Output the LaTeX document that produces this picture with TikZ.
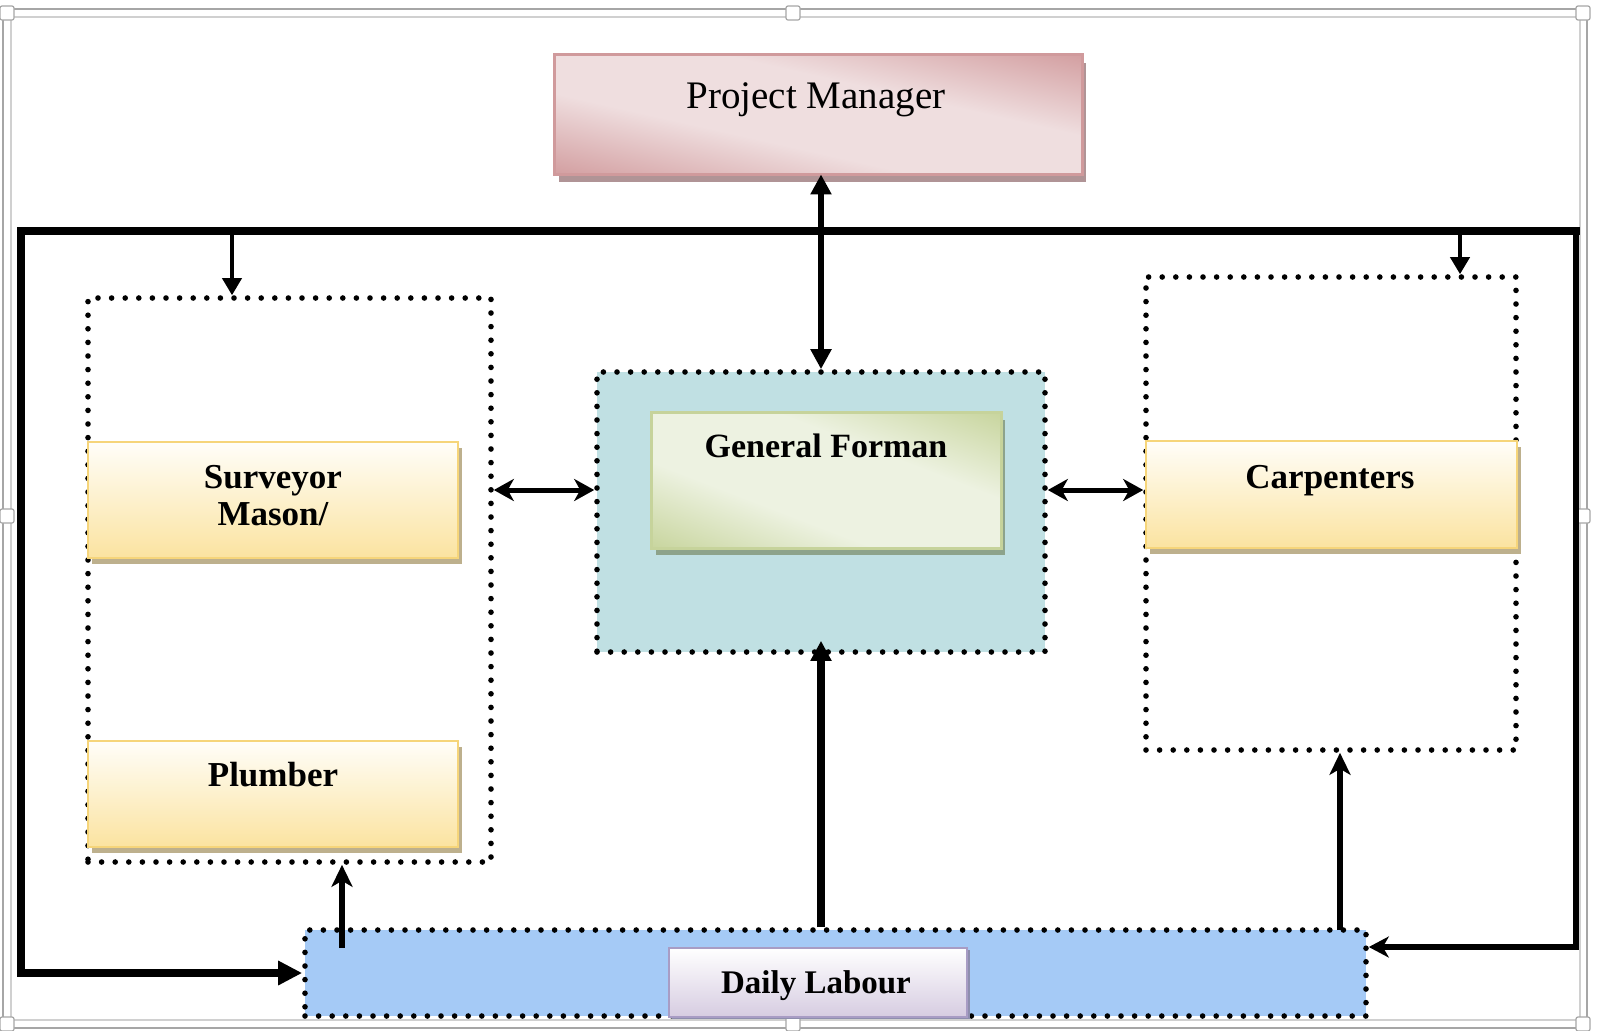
\documentclass[tikz,border=0pt]{standalone}
\usepackage{fontspec}
\setmainfont{Liberation Serif}
\usetikzlibrary{arrows.meta,shadows,calc}
\definecolor{frameA}{HTML}{A6A6A6}
\definecolor{frameB}{HTML}{D0D0D0}
\definecolor{pmlight}{HTML}{EFDEDF}
\definecolor{pmdark}{HTML}{D39FA1}
\definecolor{pmborder}{HTML}{D09A9C}
\definecolor{pmshadow}{HTML}{B09496}
\definecolor{gflight}{HTML}{EDF2E1}
\definecolor{gfdark}{HTML}{C8D59E}
\definecolor{gfborder}{HTML}{C6D39B}
\definecolor{gfshadow}{HTML}{8DA38B}
\definecolor{teal}{HTML}{C0E0E3}
\definecolor{goldtop}{HTML}{FFFEF9}
\definecolor{goldbot}{HTML}{FBE3A0}
\definecolor{goldborder}{HTML}{F6D57A}
\definecolor{goldshadow}{HTML}{BDB08D}
\definecolor{bluefill}{HTML}{A5CAF6}
\definecolor{dlbot}{HTML}{D6CCE1}
\definecolor{dlborder}{HTML}{A89CC4}
\definecolor{dlshadow}{HTML}{8E8EAE}
\pgfdeclareverticalshading{pmshade}{100bp}{color(0bp)=(pmdark); color(25bp)=(pmdark); color(42bp)=(pmlight); color(58bp)=(pmlight); color(75bp)=(pmdark); color(100bp)=(pmdark)}
\pgfdeclareverticalshading{gfshade}{100bp}{color(0bp)=(gfdark); color(25bp)=(gfdark); color(41bp)=(gflight); color(59bp)=(gflight); color(75bp)=(gfdark); color(100bp)=(gfdark)}
\begin{document}
\begin{tikzpicture}[x=0.5pt,y=-0.5pt,
  dotbox/.style={draw=black,line width=2.8pt,dash pattern=on 0pt off 6.8pt,line cap=round,inner sep=0pt},
  goldbox/.style={draw=goldborder,line width=1.3pt,top color=goldtop,bottom color=goldbot,inner sep=0pt,
    general shadow={fill=goldshadow,shadow xshift=2pt,shadow yshift=-3pt}},
  boldtxt/.style={font=\fontsize{17.5pt}{21pt}\selectfont\bfseries,inner sep=0pt},
  bar/.style={line width=3.8pt},
  thinarrow/.style={line width=1.9pt,-{Triangle[length=8.5pt,width=9.5pt]}},
  upstealth/.style={line width=3.3pt,-{Stealth[length=11pt,width=10.5pt,inset=3pt]}},
  dblarrow/.style={line width=2.5pt,{Stealth[length=10pt,width=11pt,inset=3pt]}-{Stealth[length=10pt,width=11pt,inset=3pt]}},
  handle/.style={draw=frameA,fill=white,line width=0.6pt,rounded corners=1pt,minimum size=7pt,inner sep=0pt}
]
\useasboundingbox (0,0) rectangle (1602,1030);
% selection frame
\draw[frameA,line width=0.9pt] (3,9) rectangle (1587,1028);
\draw[frameB,line width=0.9pt] (11,17) rectangle (1580,1020);
\foreach \hx/\hy/\hn in {7/13/h1,793/13/h2,1583/13/h3,7/516/h4,1583/516/h5,7/1024/h6,793/1024/h7,1583/1024/h8}
  \node[handle] (\hn) at (\hx,\hy) {};
% Project manager
\node[fill=pmlight,minimum width=263.5pt,minimum height=59.5pt,inner sep=0pt,
  general shadow={fill=pmshadow,shadow xshift=2pt,shadow yshift=-4pt}] (pm) at (818.5,114.5) {};
\begin{scope}
  \clip (pm.south west) rectangle (pm.north east);
  \begin{scope}[transform canvas={rotate around={-12.7:(pm.center)}}]
    \shade[shading=pmshade] ([xshift=-300pt,yshift=-58pt]pm.center) rectangle ([xshift=300pt,yshift=58pt]pm.center);
  \end{scope}
\end{scope}
\draw[pmborder,line width=1.2pt] (pm.south west) rectangle (pm.north east);
\node[font=\fontsize{19.5pt}{23pt}\selectfont,inner sep=0pt,anchor=base] (pmtxt) at (816,108) {Project Manager};
% groups
\node[dotbox,minimum width=201.5pt,minimum height=282pt] (lgroup) at (289.5,580) {};
\node[dotbox,minimum width=185pt,minimum height=236.5pt] (rgroup) at (1331,513.5) {};
\node[dotbox,fill=teal,minimum width=224pt,minimum height=140pt] (gfouter) at (821,512) {};
\node[dotbox,fill=bluefill,minimum width=530.5pt,minimum height=43pt] (blue) at (835.5,973) {};
% general forman
\node[fill=gflight,minimum width=174.5pt,minimum height=67.5pt,inner sep=0pt,
  general shadow={fill=gfshadow,shadow xshift=2pt,shadow yshift=-3.5pt}] (gf) at (826.5,480.5) {};
\begin{scope}
  \clip (gf.south west) rectangle (gf.north east);
  \begin{scope}[transform canvas={rotate around={-21.1:(gf.center)}}]
    \shade[shading=gfshade] ([xshift=-200pt,yshift=-63pt]gf.center) rectangle ([xshift=200pt,yshift=63pt]gf.center);
  \end{scope}
\end{scope}
\draw[gfborder,line width=1.3pt] (gf.south west) rectangle (gf.north east);
\node[boldtxt,font=\fontsize{17pt}{20pt}\selectfont\bfseries,anchor=base] (gftxt) at (826,457) {General Forman};
% trades
\node[goldbox,minimum width=185pt,minimum height=58pt] (surv) at (273,500) {};
\node[boldtxt,anchor=base] (survA) at (273,488) {Surveyor};
\node[boldtxt,anchor=base] (survB) at (273,525) {Mason/};
\node[goldbox,minimum width=185pt,minimum height=53pt] (plum) at (273,794) {};
\node[boldtxt,anchor=base] (plumtxt) at (273,786) {Plumber};
\node[goldbox,minimum width=185.5pt,minimum height=53.5pt] (carp) at (1331.5,494.5) {};
\node[boldtxt,anchor=base] (carptxt) at (1330,488) {Carpenters};
% daily labour
\node[draw=dlborder,line width=1.2pt,top color=white,bottom color=dlbot,minimum width=149pt,minimum height=34.5pt,inner sep=0pt,
  general shadow={fill=dlshadow,shadow xshift=1.5pt,shadow yshift=-1pt}] (dl) at (818,982.5) {};
\node[boldtxt,font=\fontsize{16.5pt}{20pt}\selectfont\bfseries,anchor=base] (dltxt) at (816,993) {Daily Labour};
% connectors
\coordinate (tl) at (21,231);
\coordinate (tr) at (1576,231);
\coordinate (ld) at (232,231);
\coordinate (rd) at (1460,231);
\draw[bar,line cap=rect] (tl) -- (tr);
\draw[bar,-{Triangle[length=12pt,width=11.5pt]}] (tl) -- (tl |- blue.west) -- (blue.west);
\draw[line width=3.2pt,-{Stealth[length=10pt,width=10.5pt,inset=3pt]}] (tr) -- (tr |- 0,947) -- (blue.east |- 0,947);
\draw[thinarrow] (ld) -- (ld |- lgroup.north);
\draw[thinarrow] (rd) -- (rd |- rgroup.north);
\draw[line width=3pt,{Triangle[length=10pt,width=10pt]}-{Triangle[length=10pt,width=10pt]}] (gfouter.north |- pm.south) -- (gfouter.north);
\draw[line width=3.6pt,-{Triangle[length=10pt,width=10pt]}] (gfouter.south |- blue.north) -- ([yshift=7pt]gfouter.south);
\coordinate (lup) at (342,948);
\draw[upstealth] (lup) -- (lup |- lgroup.south);
\coordinate (rup) at (1340,930);
\draw[upstealth] (rup) -- (rup |- rgroup.south);
\draw[dblarrow] (lgroup.east |- 0,490) -- (gfouter.west |- 0,490);
\draw[dblarrow] (gfouter.east |- 0,490) -- (rgroup.west |- 0,490);
\end{tikzpicture}
\end{document}
